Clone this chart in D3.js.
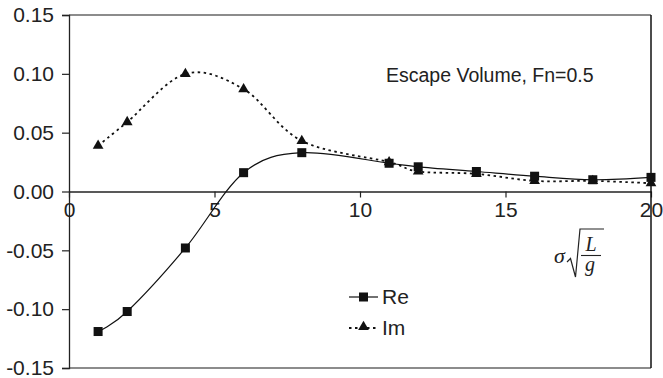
<!DOCTYPE html>
<html>
<head>
<meta charset="utf-8">
<script src="https://cdn.jsdelivr.net/npm/d3@7/dist/d3.min.js"></script>
<style>
  html, body { margin: 0; padding: 0; background: #fff; }
  svg { display: block; }
  text { fill: #222; }
  .sans { font-family: "Liberation Sans", Arial, sans-serif; }
  .math { font-family: "Liberation Serif", "Times New Roman", serif; font-style: italic; }
</style>
</head>
<body>
<svg id="chart" width="663" height="378"></svg>
<script>
// Escape volume coefficients versus nondimensional frequency
const sigma = [1, 2, 4, 6, 8, 11, 12, 14, 16, 18, 20];
const reValues = [-0.119, -0.102, -0.048, 0.016, 0.033, 0.024, 0.021, 0.017, 0.013, 0.010, 0.012];
const imValues = [0.039, 0.059, 0.100, 0.087, 0.043, 0.025, 0.017, 0.015, 0.009, 0.009, 0.007];
const xTicks = [0, 5, 10, 15, 20];
const yTicks = [-0.15, -0.10, -0.05, 0.00, 0.05, 0.10, 0.15];
const seriesNames = ["Re", "Im"];
const title = "Escape Volume, Fn=0.5";

const svg = d3.select("#chart");
const plotLeft = 69, plotRight = 651, plotTop = 15, plotBottom = 368;

const x = d3.scaleLinear().domain([0, 20]).range([plotLeft, plotRight]);
const y = d3.scaleLinear().domain([-0.15, 0.15]).range([plotBottom, plotTop]);

// Plot frame: gray top/bottom, dark right edge
svg.append("line").attr("x1", plotLeft).attr("x2", plotRight).attr("y1", plotTop).attr("y2", plotTop)
  .attr("stroke", "#666").attr("stroke-width", 1.5);
svg.append("line").attr("x1", plotLeft).attr("x2", plotRight).attr("y1", plotBottom).attr("y2", plotBottom)
  .attr("stroke", "#666").attr("stroke-width", 1.5);

// Y axis on the left (plain hyphen for negatives)
const yAxis = d3.axisLeft(y).tickValues(yTicks).tickFormat(d => d.toFixed(2))
  .tickSize(7).tickPadding(8);
const gy = svg.append("g").attr("transform", `translate(${plotLeft},0)`).call(yAxis);
gy.select(".domain").attr("stroke", "#222").attr("stroke-width", 1.3);
gy.selectAll(".tick line").attr("stroke", "#222").attr("stroke-width", 1.2);
gy.selectAll("text").attr("class", "sans").style("font-size", "21px").style("fill", "#222");

// X axis crossing at zero
const xAxis = d3.axisBottom(x).tickValues(xTicks).tickFormat(d3.format("d"))
  .tickSize(6).tickSizeOuter(0).tickPadding(5);
const gx = svg.append("g").attr("transform", `translate(0,${y(0)})`).call(xAxis);
gx.select(".domain").attr("stroke", "#222").attr("stroke-width", 1.3);
gx.selectAll(".tick line").attr("stroke", "#222").attr("stroke-width", 1.2);
gx.selectAll("text").attr("class", "sans").style("font-size", "21px").style("fill", "#222");

// Right edge of the frame, drawn over the last tick label
svg.append("line").attr("x1", plotRight).attr("x2", plotRight).attr("y1", plotTop).attr("y2", plotBottom)
  .attr("stroke", "#111").attr("stroke-width", 1.5);

const lineGen = vals => d3.line()
  .x((d, i) => x(sigma[i]))
  .y(d => y(d))
  .curve(d3.curveCatmullRom.alpha(0))(vals);

// Im: dotted smooth curve with triangles
svg.append("path").attr("d", lineGen(imValues)).attr("fill", "none")
  .attr("stroke", "#111").attr("stroke-width", 1.8).attr("stroke-dasharray", "2.5,3.5");
// Re: solid smooth curve with squares
svg.append("path").attr("d", lineGen(reValues)).attr("fill", "none")
  .attr("stroke", "#111").attr("stroke-width", 1.2);

const tri = d3.symbol().type(d3.symbolTriangle).size(50);
svg.append("g").selectAll("path").data(imValues).join("path")
  .attr("d", tri)
  .attr("transform", (d, i) => `translate(${x(sigma[i])},${y(d)})`)
  .attr("fill", "#111");

svg.append("g").selectAll("rect").data(reValues).join("rect")
  .attr("x", (d, i) => x(sigma[i]) - 4.5).attr("y", d => y(d) - 4.5)
  .attr("width", 9).attr("height", 9).attr("fill", "#111");

// Title inside the plot
svg.append("text").attr("class", "sans").attr("x", 386).attr("y", 82)
  .style("font-size", "19.5px").text(title);

// Legend
const lg = svg.append("g").attr("transform", "translate(349,297)");
lg.append("line").attr("x1", 0).attr("x2", 29).attr("y1", 0).attr("y2", 0)
  .attr("stroke", "#111").attr("stroke-width", 1.2);
lg.append("rect").attr("x", 10).attr("y", -4.5).attr("width", 9).attr("height", 9).attr("fill", "#111");
lg.append("text").attr("class", "sans").attr("x", 33).attr("y", 7)
  .style("font-size", "21px").text(seriesNames[0]);
lg.append("line").attr("x1", 0).attr("x2", 29).attr("y1", 31).attr("y2", 31)
  .attr("stroke", "#111").attr("stroke-width", 1.8).attr("stroke-dasharray", "2.5,3.5");
lg.append("path").attr("d", tri).attr("transform", "translate(14.5,30)").attr("fill", "#111");
lg.append("text").attr("class", "sans").attr("x", 33).attr("y", 38)
  .style("font-size", "21px").text(seriesNames[1]);

// Axis variable: sigma * sqrt(L/g)
const fx = svg.append("g").attr("transform", "translate(554,0)");
fx.append("text").attr("class", "math").attr("x", 0).attr("y", 263)
  .style("font-size", "22px").text("σ");
fx.append("path").attr("d", "M13,262 L16.5,258.5 L21.5,277 L26,229 L50,229")
  .attr("fill", "none").attr("stroke", "#222").attr("stroke-width", 1.2);
fx.append("text").attr("class", "math").attr("x", 37).attr("y", 251).attr("text-anchor", "middle")
  .style("font-size", "20px").text("L");
fx.append("line").attr("x1", 27).attr("x2", 47).attr("y1", 255.5).attr("y2", 255.5)
  .attr("stroke", "#222").attr("stroke-width", 1.1);
fx.append("text").attr("class", "math").attr("x", 36).attr("y", 271).attr("text-anchor", "middle")
  .style("font-size", "20px").text("g");
</script>
</body>
</html>
